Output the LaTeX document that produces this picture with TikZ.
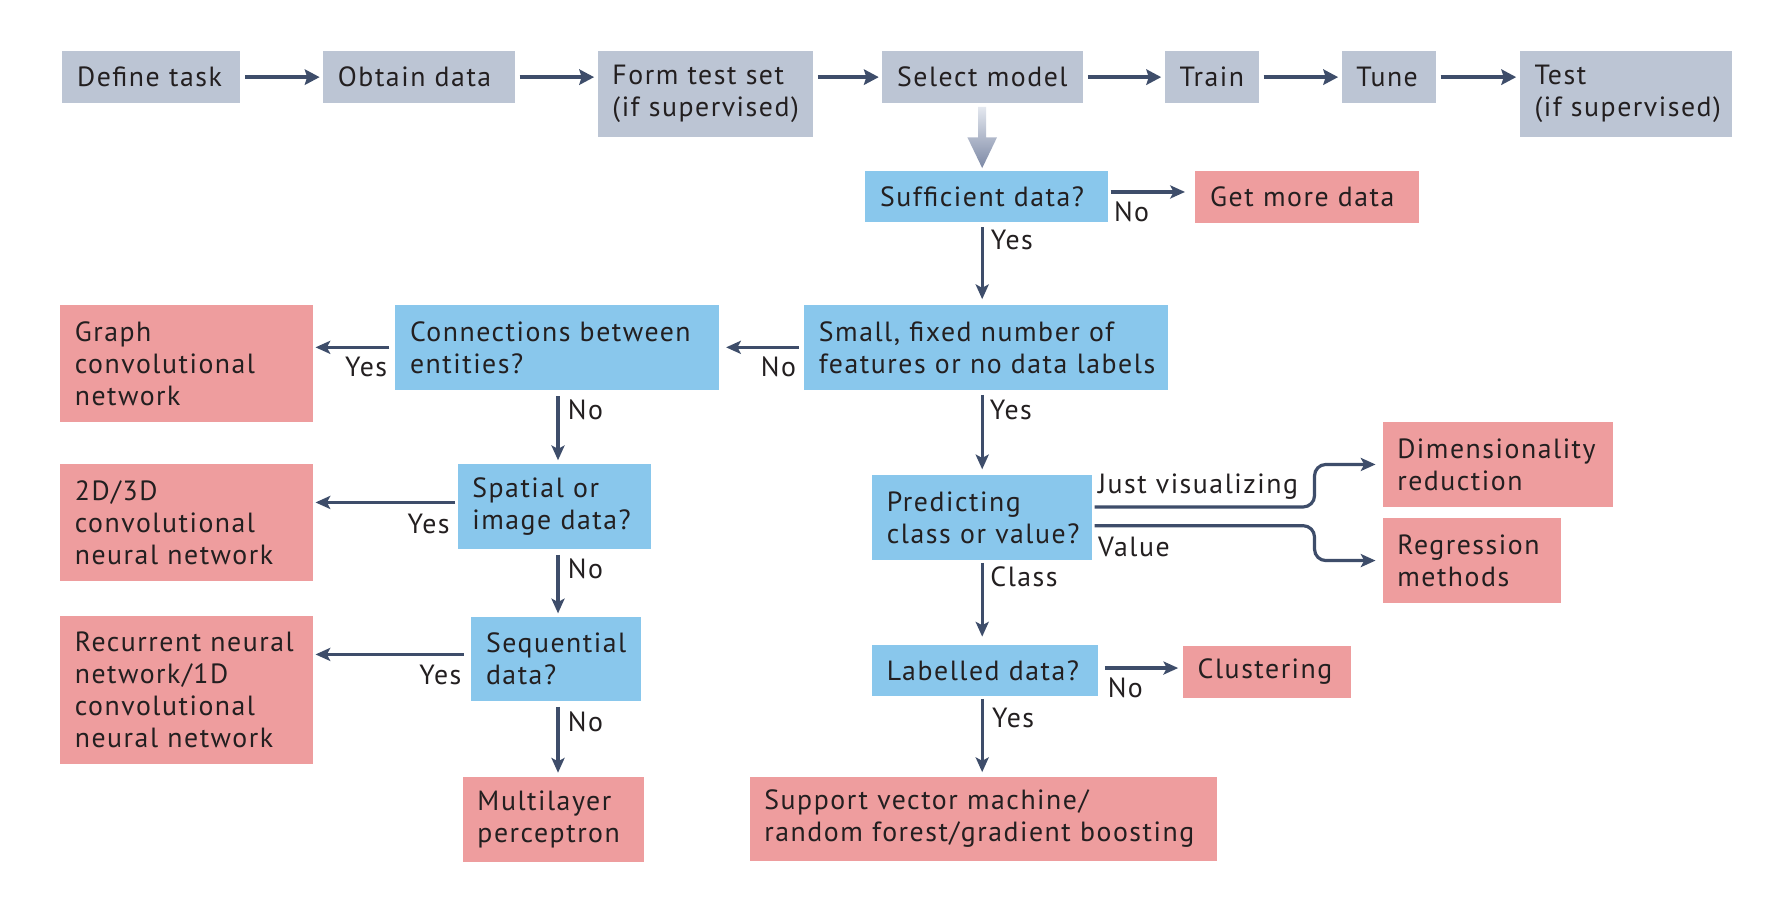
\documentclass[tikz,border=0pt]{standalone}
\usepackage{fontspec}
\setmainfont{PT Sans}[LetterSpace=5.5]
\usetikzlibrary{arrows.meta,calc}
\definecolor{greyb}{RGB}{188,197,212}
\definecolor{blueb}{RGB}{137,199,236}
\definecolor{redb}{RGB}{238,157,158}
\definecolor{arrc}{RGB}{62,77,106}
\definecolor{txt}{RGB}{35,31,32}
\definecolor{gtop}{RGB}{228,232,239}
\definecolor{gbot}{RGB}{124,136,165}
\newcommand\myfs{\fontsize{24.5}{28.2}\selectfont}
\begin{document}
\begin{tikzpicture}[x=1pt,y=-1pt,
  box/.style={inner xsep=13pt, inner ysep=0pt, align=left, font=\myfs, text=txt, anchor=center},
  greyn/.style={box, fill=greyb},
  bluen/.style={box, fill=blueb},
  redn/.style={box, fill=redb},
  sz/.style n args={3}{minimum width=#1pt, minimum height=#2pt, text width=#3pt},
  lbl/.style={font=\myfs, text=txt, inner sep=0pt, anchor=base west},
  toparr/.style={draw=arrc, line width=3.8pt, -{Stealth[length=13pt,width=13.5pt,inset=2pt]}, shorten <=4pt, shorten >=3pt},
  arr/.style={draw=arrc, line width=2.8pt, -{Stealth[length=13pt,width=11.5pt,inset=3pt]}},
]
\fill[white] (0,0) rectangle (1560.6,790);
\useasboundingbox (0,0) rectangle (1560.6,790);

% top row
\node[greyn, sz={157}{46}{131}] (def) at (133.5,68) {\mbox{Define task}};
\node[greyn, sz={169}{46}{143}] (obt) at (369.5,68) {\mbox{Obtain data}};
\node[greyn, sz={190}{76}{164}] (form) at (622,83) {\mbox{Form test set}\\\mbox{(if supervised)}};
\node[greyn, sz={177}{46}{151}] (sel) at (866.5,68) {\mbox{Select model}};
\node[greyn, sz={83}{46}{57}] (train) at (1068.5,68) {\mbox{Train}};
\node[greyn, sz={83}{46}{57}] (tune) at (1224.5,68) {\mbox{Tune}};
\node[greyn, sz={187}{76}{161}] (test) at (1433.5,83) {\mbox{Test}\\\mbox{(if supervised)}};

% decision boxes
\node[bluen, sz={214}{44.5}{188}] (suff) at (870,173.25) {\mbox{Sufficient data?}};
\node[redn, sz={197}{45.5}{171}] (more) at (1152.5,173.75) {\mbox{Get more data}};
\node[bluen, sz={321}{74.5}{295}] (small) at (869.5,306.25) {\mbox{Small, fixed number of}\\\mbox{features or no data labels}};
\node[bluen, sz={285.5}{74.5}{259.5}] (conn) at (491.25,306.25) {\mbox{Connections between}\\\mbox{entities?}};
\node[redn, sz={223}{103}{197}] (graph) at (164.5,320.5) {\mbox{Graph}\\\mbox{convolutional}\\\mbox{network}};
\node[bluen, sz={170.5}{75}{144.5}] (spat) at (488.75,446.5) {\mbox{Spatial or}\\\mbox{image data?}};
\node[redn, sz={223}{103}{197}] (cnn) at (164.5,460.5) {\mbox{2D/3D}\\\mbox{convolutional}\\\mbox{neural network}};
\node[bluen, sz={150}{74}{124}] (seq) at (490.5,581) {\mbox{Sequential}\\\mbox{data?}};
\node[redn, sz={223}{131}{197}] (rnn) at (164.5,608.5) {\mbox{Recurrent neural}\\\mbox{network/1D}\\\mbox{convolutional}\\\mbox{neural network}};
\node[redn, sz={160}{75}{134}] (mlp) at (488,722.5) {\mbox{Multilayer}\\\mbox{perceptron}};
\node[bluen, sz={194}{75}{168}] (pred) at (866,456.5) {\mbox{Predicting}\\\mbox{class or value?}};
\node[redn, sz={203}{75}{177}] (dim) at (1320.5,409.5) {\mbox{Dimensionality}\\\mbox{reduction}};
\node[redn, sz={157}{75}{131}] (reg) at (1297.5,494.25) {\mbox{Regression}\\\mbox{methods}};
\node[bluen, sz={199}{45}{173}] (lab) at (868.5,591) {\mbox{Labelled data?}};
\node[redn, sz={148}{45}{122}] (clu) at (1117,592.5) {\mbox{Clustering}};
\node[redn, sz={412}{74}{386}] (svm) at (867,722) {\mbox{Support vector machine/}\\\mbox{random forest/gradient boosting}};

\coordinate (cx) at (866,0);
\coordinate (lx) at (492,0);
\coordinate (vx) at (1159,0);

% top row arrows
\draw[toparr] (def.east) -- (obt.west);
\draw[toparr] (obt.east) -- (obt.east -| form.west);
\draw[toparr] (sel.west -| form.east) -- (sel.west);
\draw[toparr] (sel.east) -- (train.west);
\draw[toparr] (train.east) -- (tune.west);
\draw[toparr] (tune.east) -- (tune.east -| test.west);

% gradient arrow
\coordinate (g0) at (sel.south -| cx);
\shade[top color=gtop, bottom color=gbot]
  ($(g0)+(-3.5,3)$) -- ($(g0)+(3.5,3)$) -- ($(g0)+(3.5,30)$) -- ($(g0)+(13,30)$)
  -- ($(g0)+(0,57)$) -- ($(g0)+(-13,30)$) -- ($(g0)+(-3.5,30)$) -- cycle;

% right branch
\draw[arr, shorten <=2pt, shorten >=9pt] ([yshift=4pt]suff.east) -- ([yshift=4pt]suff.east -| more.west);
\draw[arr, shorten <=4.5pt, shorten >=5pt] (suff.south -| cx) -- (small.north -| cx);
\draw[arr, shorten <=4.5pt, shorten >=5pt] (small.south -| cx) -- (pred.north -| cx);
\draw[arr, shorten <=2pt, shorten >=7pt] (pred.south -| cx) -- (lab.north -| cx);
\draw[arr, shorten <=6pt, shorten >=4pt] ([yshift=2pt]lab.east) -- ([yshift=2pt]lab.east -| clu.west);
\draw[arr, shorten <=2.5pt, shorten >=4pt] (lab.south -| cx) -- (svm.north -| cx);
\draw[arr, rounded corners=10pt, shorten <=2pt, shorten >=6pt]
  ([yshift=9.5pt]pred.east) -- ([yshift=9.5pt]pred.east -| vx) -- (dim.west -| vx) -- (dim.west);
\draw[arr, rounded corners=10pt, shorten <=2pt, shorten >=6pt]
  ([yshift=-7pt]pred.east) -- ([yshift=-7pt]pred.east -| vx) -- (reg.west -| vx) -- (reg.west);

% left branch
\draw[arr, shorten <=4.5pt, shorten >=6pt] (small.west) -- (conn.east);
\draw[arr, shorten <=5pt, shorten >=2pt] (conn.west) -- (graph.east |- conn.west);
\draw[arr, shorten <=5.5pt, shorten >=3pt] (conn.south -| lx) -- (spat.north -| lx);
\draw[arr, shorten <=2pt, shorten >=2pt] ([yshift=3.5pt]spat.west) -- ([yshift=3.5pt]spat.west -| cnn.east);
\draw[arr, shorten <=5pt, shorten >=3pt] (spat.south -| lx) -- (seq.north -| lx);
\draw[arr, shorten <=6.5pt, shorten >=2pt] ([yshift=4pt]seq.west) -- ([yshift=4pt]seq.west -| rnn.east);
\draw[arr, shorten <=5pt, shorten >=3.5pt] (seq.south -| lx) -- (mlp.north -| lx);

% labels
\node[lbl] (l1) at (982,195) {No};
\node[lbl] (l2) at (873.5,220) {Yes};
\node[lbl, anchor=base east] (l3) at (702,332) {No};
\node[lbl, anchor=base east] (l4) at (341.5,332) {Yes};
\node[lbl] (l5) at (500.5,369.6) {No};
\node[lbl, anchor=base east] (l6) at (396.7,470) {Yes};
\node[lbl] (l7) at (500.5,509.7) {No};
\node[lbl, anchor=base east] (l8) at (407,603.7) {Yes};
\node[lbl] (l9) at (500.5,645) {No};
\node[lbl] (l10) at (872.6,370) {Yes};
\node[lbl] (l11) at (968,434.7) {Just visualizing};
\node[lbl] (l12) at (968,490.6) {Value};
\node[lbl] (l13) at (873,517.5) {Class};
\node[lbl] (l14) at (976.5,615) {No};
\node[lbl] (l15) at (874.5,641) {Yes};
\end{tikzpicture}
\end{document}
